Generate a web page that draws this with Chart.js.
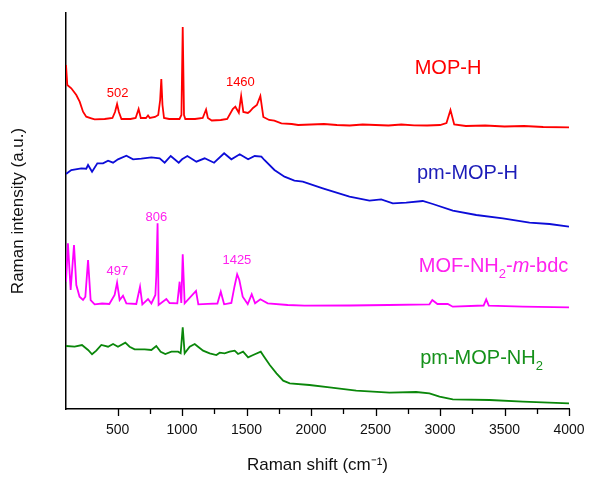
<!DOCTYPE html>
<html>
<head>
<meta charset="utf-8">
<script src="https://cdn.jsdelivr.net/npm/chart.js@4.4.1/dist/chart.umd.min.js"></script>
<style>
  body { margin: 0; background: #fff; }
  #wrap { width: 591px; height: 477px; }
</style>
</head>
<body>
<div id="wrap"><canvas id="ramanChart" width="591" height="477"></canvas></div>
<script>
// Raman shift (cm-1) and intensity (a.u., arbitrary offsets) for each spectrum
const mopHShift = [100, 110, 141, 180, 206, 232, 257, 296, 322, 400, 460, 480, 496, 510, 530, 600, 640, 663, 680, 720, 736, 750, 790, 815, 830, 839, 848, 860, 900, 980, 995, 1005, 1015, 1025, 1100, 1160, 1186, 1200, 1230, 1300, 1350, 1393, 1413, 1440, 1458, 1475, 1510, 1525, 1550, 1580, 1607, 1630, 1675, 1715, 1770, 1850, 1900, 2000, 2100, 2200, 2300, 2400, 2500, 2600, 2700, 2800, 2900, 3000, 3050, 3081, 3110, 3200, 3350, 3500, 3650, 3800, 4000];
const mopHInt = [344, 324, 320.7, 314, 307.3, 297.3, 292.3, 290.7, 289.7, 290, 291, 297, 305, 297, 290, 290, 291, 300, 291, 291, 293.5, 291, 292, 294, 309, 330, 304, 291, 290, 290, 294, 382, 294, 290, 290, 291, 299.5, 291, 288.5, 289, 290, 300, 302.3, 296.3, 313, 297, 296, 297.5, 301, 304, 313, 292, 289, 288.3, 285.7, 285, 284, 284.5, 285, 284, 283.5, 284.5, 284, 283.5, 284.5, 283.7, 283.5, 284, 286, 299, 284.5, 283, 283.5, 282.5, 283, 282, 281.7];

const pmMopHShift = [100, 141, 219, 257, 271, 302, 343, 387, 426, 465, 503, 568, 620, 684, 762, 826, 865, 912, 974, 1000, 1041, 1111, 1175, 1248, 1326, 1382, 1447, 1512, 1563, 1615, 1638, 1716, 1794, 1871, 1936, 2091, 2298, 2453, 2544, 2634, 2738, 2866, 2944, 3099, 3281, 3487, 3694, 3849, 4000];
const pmMopHInt = [235, 239, 240.7, 240.3, 244, 237.3, 245.7, 245.7, 248.3, 246.3, 249.7, 253.3, 249.7, 250.3, 251.7, 250.7, 246.3, 253, 246.3, 249.7, 253, 247.3, 250.7, 246.3, 255.7, 249.7, 254.7, 249.7, 253, 252.3, 249, 239, 232.3, 228.3, 227.3, 220.7, 212.3, 208.3, 209.7, 205.7, 206.3, 208, 205, 198.3, 194, 190.7, 186.3, 185, 182.3];

const mofShift = [100, 115, 136, 162, 180, 205, 232, 250, 271, 291, 322, 380, 436, 477, 496, 516, 542, 568, 645, 674, 692, 736, 762, 793, 800, 810, 818, 878, 903, 963, 981, 994, 1005, 1020, 1108, 1126, 1200, 1274, 1300, 1326, 1382, 1406, 1427, 1444, 1470, 1509, 1540, 1566, 1607, 1664, 1819, 1949, 2300, 2600, 2918, 2940, 2980, 3060, 3099, 3338, 3358, 3378, 3642, 4000];
const mofInt = [127.3, 165.7, 119, 164, 124, 112.3, 109, 112.3, 149, 109, 104.7, 105.5, 105, 114, 126.3, 109, 113.3, 105.7, 105, 122.3, 104.7, 110, 105.5, 114, 133, 185.7, 104, 110, 106, 105.7, 127.3, 106, 154.7, 105.7, 118, 104.7, 105.2, 105.5, 117.3, 104.7, 106, 122.3, 134.7, 129, 112.3, 105, 114.7, 105.7, 109.7, 105.7, 104, 103.3, 103.5, 104, 104.7, 109, 105, 105, 102.3, 103.5, 109.7, 103.3, 102.3, 101.7];

const pmMopNH2Shift = [100, 167, 224, 271, 302, 335, 374, 426, 465, 503, 560, 593, 632, 710, 762, 800, 834, 870, 917, 969, 989, 1005, 1020, 1059, 1098, 1124, 1163, 1214, 1266, 1292, 1330, 1369, 1408, 1434, 1473, 1512, 1551, 1610, 1636, 1680, 1732, 1784, 1835, 1988, 2143, 2350, 2608, 2815, 2918, 2996, 3099, 3384, 3642, 4000];
const pmMopNH2Int = [63, 62.3, 64, 59, 54.7, 58.3, 64, 62.3, 65, 62.3, 66.3, 62.3, 59.7, 59.7, 59, 63, 57.3, 55, 57.3, 57.3, 55.7, 81.7, 55.7, 62.3, 65, 62.3, 58.3, 55.7, 54, 56.3, 55.7, 57.3, 58.3, 55, 57.3, 51.7, 54, 57.3, 52.3, 44, 35.7, 28.3, 25.7, 24, 21.7, 18.3, 16.3, 17, 15.7, 12.3, 9.7, 9, 7.3, 5.7];

const xTicks = [500, 1000, 1500, 2000, 2500, 3000, 3500, 4000];

// text labels placed in data coordinates
const seriesLabels = [
    { x: 3062, y: 341, color: '#ff0000', parts: [{ t: 'MOP-H' }] },
    { x: 3213, y: 236, color: '#1c1cb8', parts: [{ t: 'pm-MOP-H' }] },
    { x: 3415, y: 143, color: '#ff22ee', parts: [{ t: 'MOF-NH' }, { t: '2', sub: true }, { t: '-' }, { t: 'm', italic: true }, { t: '-bdc' }] },
    { x: 3322, y: 51, color: '#15911a', parts: [{ t: 'pm-MOP-NH' }, { t: '2', sub: true }] }
];
const peakLabels = [
    { x: 500, y: 316, text: '502', color: '#ff0000' },
    { x: 1452, y: 327, text: '1460', color: '#ff0000' },
    { x: 499, y: 138, text: '497', color: '#ff22ee' },
    { x: 800, y: 192, text: '806', color: '#ff22ee' },
    { x: 1425, y: 149, text: '1425', color: '#ff22ee' }
];

const FONT = "'Liberation Sans', Arial, sans-serif";

function toPoints(xs, ys) {
    return xs.map(function(x, i) { return { x: x, y: ys[i] }; });
}

const annotatePlugin = {
    id: 'annotate',
    afterDraw: function(chart) {
        const ctx = chart.ctx;
        const xs = chart.scales.x;
        const ys = chart.scales.y;
        const bottom = chart.chartArea.bottom;

        // major / minor tick marks
        ctx.save();
        ctx.strokeStyle = '#000';
        ctx.lineWidth = 1.3;
        xs.ticks.forEach(function(t) {
            if (t.value < 250) return;
            const px = Math.round(xs.getPixelForValue(t.value)) + 0.5;
            const len = xTicks.includes(t.value) ? 7 : 5;
            ctx.beginPath();
            ctx.moveTo(px, bottom);
            ctx.lineTo(px, bottom + len);
            ctx.stroke();
        });

        // peak labels
        ctx.font = '13px ' + FONT;
        ctx.textAlign = 'center';
        ctx.textBaseline = 'middle';
        peakLabels.forEach(function(l) {
            ctx.fillStyle = l.color;
            ctx.fillText(l.text, xs.getPixelForValue(l.x), ys.getPixelForValue(l.y));
        });

        // series names with subscripts
        ctx.textAlign = 'left';
        seriesLabels.forEach(function(l) {
            const fontFor = function(p) {
                if (p.sub) return '13px ' + FONT;
                return (p.italic ? 'italic ' : '') + '20px ' + FONT;
            };
            let total = 0;
            l.parts.forEach(function(p) { ctx.font = fontFor(p); total += ctx.measureText(p.t).width; });
            let cx = xs.getPixelForValue(l.x) - total / 2;
            const cy = ys.getPixelForValue(l.y);
            ctx.fillStyle = l.color;
            l.parts.forEach(function(p) {
                ctx.font = fontFor(p);
                ctx.fillText(p.t, cx, p.sub ? cy + 8 : cy);
                cx += ctx.measureText(p.t).width;
            });
        });
        ctx.restore();
    }
};

function lineSet(label, xs, ys, color) {
    return {
        label: label,
        data: toPoints(xs, ys),
        borderColor: color,
        borderWidth: 1.8,
        pointRadius: 0,
        tension: 0,
        fill: false
    };
}

new Chart(document.getElementById('ramanChart').getContext('2d'), {
    type: 'line',
    data: {
        datasets: [
            lineSet('MOP-H', mopHShift, mopHInt, '#ff0000'),
            lineSet('pm-MOP-H', pmMopHShift, pmMopHInt, '#0c0cd8'),
            lineSet('MOF-NH2-m-bdc', mofShift, mofInt, '#ff00ff'),
            lineSet('pm-MOP-NH2', pmMopNH2Shift, pmMopNH2Int, '#0a870a')
        ]
    },
    options: {
        responsive: false,
        animation: false,
        layout: { padding: { top: 13, right: 22, left: 0, bottom: 0 } },
        plugins: {
            legend: { display: false },
            tooltip: { enabled: false }
        },
        scales: {
            x: {
                type: 'linear',
                min: 100,
                max: 4000,
                grid: { display: false, drawTicks: false, tickLength: 0 },
                border: { display: true, color: '#000', width: 1.5 },
                ticks: {
                    stepSize: 250,
                    autoSkip: false,
                    maxRotation: 0,
                    padding: 13,
                    color: '#111',
                    font: { family: FONT, size: 14 },
                    callback: function(v) { return xTicks.includes(v) ? String(v) : ''; }
                },
                title: {
                    display: true,
                    text: 'Raman shift (cm\u207B\u00B9)',
                    color: '#111',
                    font: { family: FONT, size: 17 },
                    padding: { top: 0, bottom: 1 }
                },
                afterFit: function(scale) {
                    scale.height = 68;
                    scale.paddingLeft = 0;
                    scale.paddingRight = 0;
                }
            },
            y: {
                min: 0,
                max: 396,
                grid: { display: false, drawTicks: false },
                border: { display: true, color: '#000', width: 1.5 },
                ticks: { display: false },
                title: {
                    display: true,
                    text: 'Raman intensity (a.u.)',
                    color: '#111',
                    font: { family: FONT, size: 17 },
                    padding: { top: 8, bottom: 0 }
                },
                afterFit: function(scale) { scale.width = 66; }
            }
        }
    },
    plugins: [annotatePlugin]
});
</script>
</body>
</html>
